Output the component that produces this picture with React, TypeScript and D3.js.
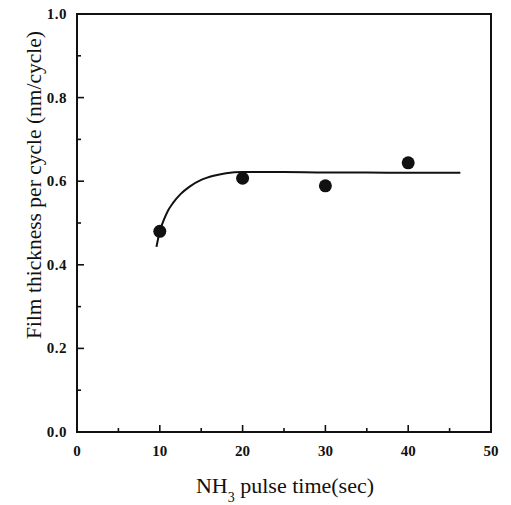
import React from "react";
import * as d3 from "d3";

const pulseTimes = [10, 20, 30, 40];
const thickness = [0.48, 0.607, 0.589, 0.644];

const fitX = [9.6, 10, 10.5, 11, 11.6, 12.5, 13.6, 15, 16.5, 18, 20, 25, 30, 35, 40, 46.3];
const fitY = [0.443, 0.48, 0.508, 0.53, 0.548, 0.569, 0.587, 0.603, 0.613, 0.619, 0.622, 0.622, 0.621, 0.621, 0.62, 0.62];

const xMajor = [0, 10, 20, 30, 40, 50];
const xMinor = [5, 15, 25, 35, 45];
const yMajor = [0, 0.2, 0.4, 0.6, 0.8, 1.0];
const yMinor = [0.1, 0.3, 0.5, 0.7, 0.9];

const W = 511;
const H = 505;
const L = 77, R = 491, T = 14, B = 432;

export default function App() {
  const x = d3.scaleLinear().domain([0, 50]).range([L, R]);
  const y = d3.scaleLinear().domain([0, 1]).range([B, T]);
  const line = d3
    .line<number>()
    .x((_, i) => x(fitX[i]))
    .y((d) => y(d))
    .curve(d3.curveMonotoneX);
  const ink = "#111";
  const serif = "'Liberation Serif', 'Times New Roman', serif";
  return (
    <svg
      width={W}
      height={H}
      style={{ position: "absolute", left: 0, top: 0, background: "#fff" }}
    >
      <rect x={0} y={0} width={W} height={H} fill="#fff" />
      {/* frame */}
      <rect x={L} y={T} width={R - L} height={B - T} fill="none" stroke={ink} strokeWidth={2} />
      {/* x ticks */}
      {xMajor.map((v) => (
        <line key={"xm" + v} x1={x(v)} x2={x(v)} y1={B} y2={B - 7} stroke={ink} strokeWidth={1.6} />
      ))}
      {xMinor.map((v) => (
        <line key={"xn" + v} x1={x(v)} x2={x(v)} y1={B} y2={B - 4} stroke={ink} strokeWidth={1.6} />
      ))}
      {yMajor.map((v) => (
        <line key={"ym" + v} x1={L} x2={L + 7} y1={y(v)} y2={y(v)} stroke={ink} strokeWidth={1.6} />
      ))}
      {yMinor.map((v) => (
        <line key={"yn" + v} x1={L} x2={L + 4} y1={y(v)} y2={y(v)} stroke={ink} strokeWidth={1.6} />
      ))}
      {/* tick labels */}
      {xMajor.map((v) => (
        <text
          key={"xl" + v}
          x={x(v)}
          y={456}
          textAnchor="middle"
          fontFamily={serif}
          fontWeight="bold"
          fontSize={15}
          fill={ink}
        >
          {d3.format("d")(v)}
        </text>
      ))}
      {yMajor.map((v) => (
        <text
          key={"yl" + v}
          x={67}
          y={y(v) + 5}
          textAnchor="end"
          fontFamily={serif}
          fontWeight="bold"
          fontSize={15}
          letterSpacing={0.5}
          fill={ink}
        >
          {d3.format(".1f")(v)}
        </text>
      ))}
      {/* fit curve */}
      <path d={line(fitY) || ""} fill="none" stroke={ink} strokeWidth={2} />
      {/* points */}
      {pulseTimes.map((t, i) => (
        <circle key={"p" + t} cx={x(t)} cy={y(thickness[i])} r={6.5} fill={ink} />
      ))}
      {/* axis titles */}
      <text x={285} y={493} textAnchor="middle" fontFamily={serif} fontSize={22} fill={ink}>
        NH
        <tspan fontSize={14} dy={9}>3</tspan>
        <tspan dy={-9}> pulse time(sec)</tspan>
      </text>
      <text
        transform={`translate(41,185) rotate(-90)`}
        textAnchor="middle"
        fontFamily={serif}
        fontSize={21.5}
        fill={ink}
      >
        Film thickness per cycle (nm/cycle)
      </text>
    </svg>
  );
}
